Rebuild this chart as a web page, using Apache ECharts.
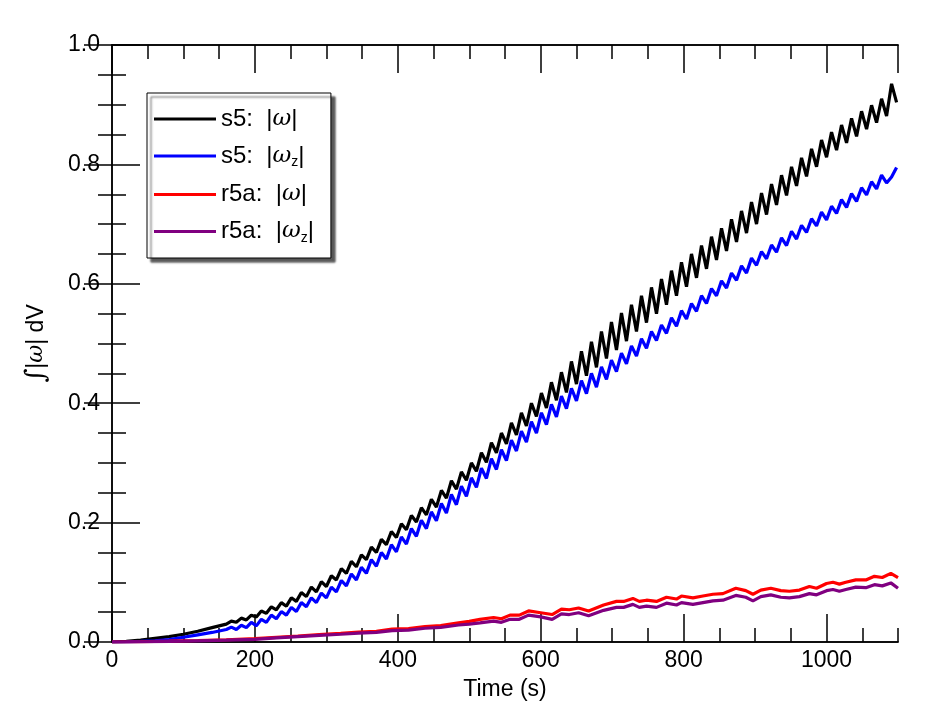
<!DOCTYPE html>
<html lang="en">
<head>
    <meta charset="UTF-8">
    <title>Integrated vorticity</title>
    <script src="https://cdn.jsdelivr.net/npm/echarts@6.0.0/dist/echarts.min.js"></script>
    <style>
        html, body {margin: 0; padding: 0; background: #fff;}
        #chart {width: 947px; height: 719px;}
    </style>
</head>
<body>
<div id="chart"></div>

<script>
    // s5 runs: sample times (s) and values
    var sTime = [0, 20, 40, 60, 80, 100, 120, 140, 160,
        167, 174, 181, 188, 195, 202, 209, 216, 223, 230, 237, 244, 251, 258, 265, 272, 279, 286, 293, 300,
        307, 314, 321, 328, 335, 342, 349, 356, 363, 370, 377, 384, 391, 398, 405, 412, 419, 426, 433, 440,
        447, 454, 461, 468, 475, 482, 489, 496, 503, 510, 517, 524, 531, 538, 545, 552, 559, 566, 573, 580,
        587, 594, 601, 608, 615, 622, 629, 636, 643, 650, 657, 664, 671, 678, 685, 692, 699, 706, 713, 720,
        727, 734, 741, 748, 755, 762, 769, 776, 783, 790, 797, 804, 811, 818, 825, 832, 839, 846, 853, 860,
        867, 874, 881, 888, 895, 902, 909, 916, 923, 930, 937, 944, 951, 958, 965, 972, 979, 986, 993, 1000,
        1007, 1014, 1021, 1028, 1035, 1042, 1049, 1056, 1063, 1070, 1077, 1084, 1091, 1098];
    var s5Omega = [0, 0.001, 0.003, 0.006, 0.009, 0.013, 0.018, 0.024, 0.030,
        0.035, 0.033, 0.040, 0.037, 0.045, 0.042, 0.052, 0.048, 0.059, 0.054, 0.066, 0.060, 0.074, 0.068, 0.083, 0.076, 0.092, 0.084, 0.101, 0.093,
        0.111, 0.104, 0.123, 0.115, 0.135, 0.126, 0.146, 0.138, 0.159, 0.150, 0.172, 0.163, 0.185, 0.175, 0.198, 0.188, 0.212, 0.201, 0.225, 0.213,
        0.239, 0.226, 0.254, 0.241, 0.270, 0.256, 0.285, 0.271, 0.300, 0.286, 0.317, 0.301, 0.334, 0.317, 0.350, 0.332, 0.367, 0.347, 0.384, 0.362,
        0.400, 0.378, 0.417, 0.392, 0.435, 0.405, 0.452, 0.418, 0.470, 0.432, 0.487, 0.446, 0.503, 0.460, 0.520, 0.475, 0.536, 0.489, 0.551, 0.504,
        0.565, 0.520, 0.580, 0.535, 0.594, 0.550, 0.608, 0.565, 0.622, 0.580, 0.636, 0.595, 0.650, 0.610, 0.664, 0.625, 0.679, 0.640, 0.693, 0.655,
        0.708, 0.670, 0.722, 0.685, 0.737, 0.700, 0.752, 0.716, 0.767, 0.732, 0.782, 0.748, 0.796, 0.764, 0.811, 0.780, 0.826, 0.796, 0.841, 0.812,
        0.854, 0.824, 0.866, 0.836, 0.877, 0.847, 0.889, 0.859, 0.899, 0.870, 0.910, 0.881, 0.935, 0.904];
    var s5OmegaZ = [0, 0.0003, 0.001, 0.002, 0.004, 0.008, 0.012, 0.016, 0.021,
        0.025, 0.021, 0.028, 0.024, 0.033, 0.027, 0.038, 0.033, 0.045, 0.039, 0.051, 0.045, 0.058, 0.051, 0.066, 0.059, 0.074, 0.066, 0.082, 0.074,
        0.092, 0.084, 0.103, 0.094, 0.114, 0.104, 0.125, 0.115, 0.138, 0.127, 0.150, 0.139, 0.163, 0.151, 0.176, 0.164, 0.190, 0.177, 0.204, 0.190,
        0.218, 0.203, 0.232, 0.216, 0.247, 0.230, 0.261, 0.244, 0.275, 0.259, 0.291, 0.274, 0.307, 0.289, 0.322, 0.304, 0.338, 0.320, 0.353, 0.335,
        0.369, 0.350, 0.384, 0.364, 0.398, 0.377, 0.412, 0.391, 0.425, 0.404, 0.438, 0.416, 0.450, 0.427, 0.461, 0.440, 0.472, 0.453, 0.484, 0.466,
        0.496, 0.479, 0.508, 0.492, 0.520, 0.505, 0.531, 0.517, 0.543, 0.529, 0.555, 0.541, 0.567, 0.554, 0.580, 0.567, 0.592, 0.580, 0.605, 0.593,
        0.618, 0.606, 0.630, 0.618, 0.643, 0.631, 0.654, 0.642, 0.665, 0.653, 0.677, 0.664, 0.688, 0.675, 0.698, 0.686, 0.709, 0.697, 0.720, 0.707,
        0.730, 0.718, 0.741, 0.728, 0.751, 0.738, 0.761, 0.749, 0.771, 0.759, 0.782, 0.769, 0.779, 0.795];

    // r5a runs
    var rTime = [0, 40, 80, 120, 160, 200, 230, 260, 290, 320, 345, 370, 392, 415, 438, 460, 485, 500,
        515, 534, 545, 557, 570, 583, 600, 616, 629, 640, 653, 667, 688, 706, 716, 729, 738, 748, 762, 776,
        790, 797, 813, 827, 841, 855, 873, 887, 897, 908, 922, 936, 948, 962, 976, 986, 1000, 1009, 1018,
        1027, 1041, 1055, 1067, 1078, 1090, 1100];
    var r5aOmega = [0, 0.0004, 0.0013, 0.0025, 0.0038, 0.0055, 0.0078, 0.0100, 0.0125, 0.0145, 0.0165, 0.0178,
        0.0215, 0.0225, 0.0258, 0.0275, 0.0320, 0.0345, 0.038, 0.041, 0.039, 0.045, 0.045, 0.052, 0.049, 0.046,
        0.055, 0.054, 0.057, 0.052, 0.062, 0.068, 0.068, 0.073, 0.068, 0.070, 0.068, 0.075, 0.072, 0.077, 0.074,
        0.077, 0.080, 0.081, 0.090, 0.086, 0.080, 0.087, 0.090, 0.086, 0.085, 0.087, 0.093, 0.090, 0.098, 0.100,
        0.097, 0.100, 0.104, 0.104, 0.110, 0.108, 0.115, 0.108];
    var r5aOmegaZ = [0, 0.0003, 0.001, 0.002, 0.003, 0.0045, 0.0068, 0.0090, 0.0112, 0.0130, 0.0148, 0.0160,
        0.0192, 0.0200, 0.0230, 0.0245, 0.0285, 0.0300, 0.032, 0.035, 0.033, 0.038, 0.038, 0.045, 0.042, 0.038,
        0.047, 0.046, 0.049, 0.044, 0.053, 0.058, 0.058, 0.063, 0.058, 0.060, 0.058, 0.065, 0.062, 0.066, 0.063,
        0.066, 0.069, 0.070, 0.078, 0.075, 0.069, 0.076, 0.079, 0.075, 0.074, 0.076, 0.081, 0.079, 0.086, 0.088,
        0.085, 0.088, 0.092, 0.091, 0.096, 0.094, 0.099, 0.090];

    var names = ['s5: |ω|', 's5: |ωz|', 'r5a: |ω|', 'r5a: |ωz|'];
    var legendText = {
        's5: |ω|': '{t|s5:  |}{w|ω}{t||}',
        's5: |ωz|': '{t|s5:  |}{w|ω}{sub|z}{t||}',
        'r5a: |ω|': '{t|r5a:  |}{w|ω}{t||}',
        'r5a: |ωz|': '{t|r5a:  |}{w|ω}{sub|z}{t||}'
    };

    function pairs(xs, ys) {
        return xs.map(function (x, i) { return [x, ys[i]]; });
    }

    var font = 'Liberation Sans';
    var frame = {show: true, lineStyle: {color: '#000', width: 1.5}};

    function xAxis(pos, interval, len, labels) {
        return {
            type: 'value', position: pos, min: 0, max: 1100, interval: interval,
            axisLine: frame,
            axisTick: {show: true, inside: true, length: len, lineStyle: {color: '#000', width: 1.5}},
            axisLabel: {
                show: labels, color: '#000', fontFamily: font, fontSize: 23, margin: 7, showMaxLabel: false,
                formatter: function (v) { return String(v); }
            },
            splitLine: {show: false},
            name: labels ? 'Time (s)' : '', nameLocation: 'middle', nameGap: 36,
            nameTextStyle: {color: '#000', fontFamily: font, fontSize: 23}
        };
    }

    function yAxis(pos, labels) {
        return {
            type: 'value', position: pos, min: 0, max: 1, interval: 0.2,
            axisLine: frame,
            axisTick: {show: true, inside: true, length: 28, lineStyle: {color: '#000', width: 1.5}},
            minorTick: {show: true, splitNumber: 4, length: 14, lineStyle: {color: '#000', width: 1.5}},
            axisLabel: {
                show: labels, color: '#000', fontFamily: font, fontSize: 23, margin: 12,
                formatter: function (v) { return v.toFixed(1); }
            },
            splitLine: {show: false},
            name: labels ? '{i|∫}{t||}{w|ω}{t|| dV}' : '', nameLocation: 'middle', nameGap: 62, nameRotate: 90,
            nameTextStyle: {
                color: '#000', fontFamily: font, fontSize: 23,
                rich: {
                    t: {fontFamily: font, fontSize: 23, color: '#000'},
                    i: {fontFamily: 'DejaVu Serif', fontStyle: 'italic', fontSize: 27, color: '#000'},
                    w: {fontFamily: 'DejaVu Serif', fontStyle: 'italic', fontSize: 22, color: '#000'}
                }
            }
        };
    }

    function line(name, color, data) {
        return {
            name: name, type: 'line', data: data, xAxisIndex: 0, yAxisIndex: 0,
            symbol: 'none', smooth: false,
            lineStyle: {color: color, width: 3.2}, itemStyle: {color: color}
        };
    }

    var chart = echarts.init(document.getElementById('chart'));
    chart.setOption({
        animation: false,
        backgroundColor: '#fff',
        grid: {left: 112, right: 49, top: 45, bottom: 77},
        legend: {
            data: names, orient: 'vertical', left: 147, top: 93, icon: 'rect',
            padding: [14, 17, 13, 7], itemGap: 13, itemWidth: 62, itemHeight: 3,
            backgroundColor: '#fff', borderColor: '#000', borderWidth: 1,
            shadowColor: 'rgba(0,0,0,0.65)', shadowOffsetX: 4, shadowOffsetY: 4, shadowBlur: 2,
            formatter: function (n) { return legendText[n]; },
            textStyle: {
                color: '#000', fontFamily: font, fontSize: 24, padding: [0, 0, 0, 0],
                rich: {
                    t: {fontFamily: font, fontSize: 24, color: '#000', height: 26},
                    w: {fontFamily: 'DejaVu Serif', fontStyle: 'italic', fontSize: 23, color: '#000', height: 26},
                    sub: {fontFamily: font, fontSize: 14, color: '#000', verticalAlign: 'bottom', padding: [13, 0, 0, 0]}
                }
            }
        },
        xAxis: [
            xAxis('bottom', 200, 28, true),
            xAxis('bottom', 50, 14, false),
            xAxis('top', 200, 28, false),
            xAxis('top', 50, 14, false)
        ],
        yAxis: [yAxis('left', true), yAxis('right', false)],
        series: [
            line(names[0], '#000000', pairs(sTime, s5Omega)),
            line(names[1], '#0000ff', pairs(sTime, s5OmegaZ)),
            line(names[2], '#ff0000', pairs(rTime, r5aOmega)),
            line(names[3], '#800080', pairs(rTime, r5aOmegaZ))
        ]
    });
</script>
</body>
</html>
